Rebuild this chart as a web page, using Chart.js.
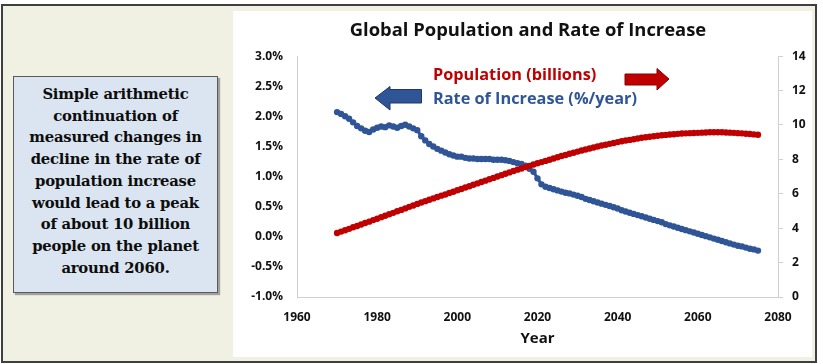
<!DOCTYPE html>
<html>
<head>
<meta charset="utf-8">
<script src="https://cdn.jsdelivr.net/npm/chart.js@4.4.0/dist/chart.umd.min.js"></script>
<style>
  html, body { margin: 0; padding: 0; }
  body { width: 823px; height: 364px; position: relative; overflow: hidden; background: #ffffff; }
  #frame { position: absolute; left: 1px; top: 4px; width: 816px; height: 359px; box-sizing: border-box;
           border: 2px solid #3f3f3f; background: #f0f0e3; }
  #panel { position: absolute; left: 233px; top: 11px; width: 579px; height: 346px; background: #ffffff; }
  #note { position: absolute; left: 13px; top: 76px; width: 205px; height: 217px; box-sizing: border-box;
          background: #dbe5f1; border: 1px solid #5a5a5a; box-shadow: 2px 2px 1px #a0a0a0;
          font: bold 14.8px 'DejaVu Serif', serif; color: #0d0d0d; text-align: center; line-height: 21.7px;
          padding-top: 6px; white-space: nowrap; letter-spacing: -0.2px; }
  #chartBox { position: absolute; left: 233px; top: 11px; width: 590px; height: 346px; }
  .key { position: absolute; font: bold 16.3px 'Open Sans', sans-serif; white-space: nowrap; }
  .arrow { position: absolute; }
</style>
</head>
<body>
<div id="frame"></div>
<div id="panel"></div>
<div id="note">Simple arithmetic<br>continuation of<br>measured changes in<br>decline in the rate of<br>population increase<br>would lead to a peak<br>of about 10 billion<br>people on the planet<br>around 2060.</div>
<div id="chartBox"><canvas id="popChart"></canvas></div>
<div class="key" style="left:433px; top:63px; color:#c00000;">Population (billions)</div>
<div class="key" style="left:433px; top:87px; color:#2f5597;">Rate of Increase (%/year)</div>
<svg class="arrow" style="left:374px; top:85px;" width="50" height="27">
  <polygon points="1,13 16,1.5 16,4.5 47.5,4.5 47.5,18 16,18 16,25 " fill="#2f5597" stroke="#1f3864" stroke-width="1"/>
</svg>
<svg class="arrow" style="left:624px; top:67px;" width="48" height="25">
  <polygon points="1,7 33,7 33,1.5 45,12 33,23 33,18 1,18" fill="#c00000" stroke="#8a0000" stroke-width="1"/>
</svg>
<script>
const years = [
  1970, 1971, 1972, 1973, 1974, 1975, 1976, 1977, 1978, 1979,
  1980, 1981, 1982, 1983, 1984, 1985, 1986, 1987, 1988, 1989,
  1990, 1991, 1992, 1993, 1994, 1995, 1996, 1997, 1998, 1999,
  2000, 2001, 2002, 2003, 2004, 2005, 2006, 2007, 2008, 2009,
  2010, 2011, 2012, 2013, 2014, 2015, 2016, 2017, 2018, 2019,
  2020, 2021, 2022, 2023, 2024, 2025, 2026, 2027, 2028, 2029,
  2030, 2031, 2032, 2033, 2034, 2035, 2036, 2037, 2038, 2039,
  2040, 2041, 2042, 2043, 2044, 2045, 2046, 2047, 2048, 2049,
  2050, 2051, 2052, 2053, 2054, 2055, 2056, 2057, 2058, 2059,
  2060, 2061, 2062, 2063, 2064, 2065, 2066, 2067, 2068, 2069,
  2070, 2071, 2072, 2073, 2074, 2075
];

// world population, billions (right axis)
const population = [
  3.72, 3.80, 3.88, 3.96, 4.05, 4.13, 4.21, 4.30, 4.38, 4.47,
  4.55, 4.64, 4.72, 4.81, 4.89, 4.98, 5.06, 5.15, 5.24, 5.32,
  5.41, 5.49, 5.57, 5.65, 5.73, 5.81, 5.89, 5.96, 6.04, 6.12,
  6.20, 6.28, 6.36, 6.44, 6.52, 6.60, 6.68, 6.76, 6.84, 6.92,
  7.00, 7.08, 7.16, 7.24, 7.32, 7.40, 7.47, 7.55, 7.62, 7.70,
  7.77, 7.84, 7.91, 7.98, 8.05, 8.12, 8.19, 8.25, 8.32, 8.38,
  8.45, 8.51, 8.57, 8.63, 8.69, 8.75, 8.80, 8.85, 8.90, 8.95,
  9.00, 9.05, 9.09, 9.13, 9.17, 9.21, 9.25, 9.28, 9.31, 9.34,
  9.37, 9.40, 9.42, 9.44, 9.46, 9.48, 9.50, 9.51, 9.52, 9.53,
  9.54, 9.55, 9.56, 9.57, 9.57, 9.57, 9.57, 9.56, 9.55, 9.54,
  9.52, 9.51, 9.49, 9.47, 9.45, 9.43
];

// rate of increase, %/year (left axis)
const rate = [
  2.07, 2.04, 2.00, 1.96, 1.90, 1.84, 1.80, 1.76, 1.74, 1.78,
  1.81, 1.83, 1.82, 1.85, 1.83, 1.81, 1.84, 1.86, 1.83, 1.80,
  1.77, 1.67, 1.60, 1.54, 1.50, 1.46, 1.43, 1.40, 1.37, 1.35,
  1.33, 1.33, 1.31, 1.30, 1.30, 1.29, 1.29, 1.29, 1.29, 1.28,
  1.28, 1.28, 1.27, 1.26, 1.24, 1.22, 1.21, 1.18, 1.13, 1.08,
  0.97, 0.87, 0.83, 0.81, 0.79, 0.77, 0.75, 0.73, 0.72, 0.70,
  0.68, 0.66, 0.63, 0.61, 0.59, 0.57, 0.55, 0.53, 0.51, 0.49,
  0.47, 0.44, 0.42, 0.40, 0.38, 0.36, 0.34, 0.32, 0.30, 0.28,
  0.26, 0.24, 0.21, 0.19, 0.17, 0.15, 0.13, 0.11, 0.09, 0.07,
  0.05, 0.03, 0.01, -0.01, -0.03, -0.05, -0.07, -0.09, -0.11, -0.13,
  -0.15, -0.16, -0.18, -0.20, -0.21, -0.23
];

const axisGray = '#d0d0d0';
const tickFont = { family: 'Open Sans', size: 12, weight: 'bold' };

const ctx = document.getElementById('popChart').getContext('2d');
new Chart(ctx, {
  type: 'line',
  data: {
    datasets: [{
      label: 'Population (billions)',
      data: years.map((y, i) => ({ x: y, y: population[i] })),
      yAxisID: 'yPop',
      borderColor: '#c00000',
      backgroundColor: '#c00000',
      borderWidth: 3,
      pointRadius: 3.2,
      pointBorderWidth: 0
    }, {
      label: 'Rate of Increase (%/year)',
      data: years.map((y, i) => ({ x: y, y: rate[i] })),
      yAxisID: 'yRate',
      borderColor: '#2f5597',
      backgroundColor: '#2f5597',
      borderWidth: 3,
      pointRadius: 3.2,
      pointBorderWidth: 0
    }]
  },
  options: {
    responsive: true,
    maintainAspectRatio: false,
    animation: false,
    layout: { padding: 0 },
    plugins: {
      legend: { display: false },
      tooltip: { enabled: false },
      title: {
        display: true,
        text: 'Global Population and Rate of Increase',
        color: '#111111',
        font: { family: 'Open Sans', size: 18.4, weight: 'bold' },
        padding: { top: 9, bottom: 14 }
      }
    },
    scales: {
      x: {
        type: 'linear',
        min: 1960,
        max: 2080,
        afterFit: s => { s.height = 60; },
        grid: { display: false, drawTicks: false },
        border: { color: axisGray },
        ticks: { stepSize: 20, padding: 13, color: '#111111', font: tickFont, callback: v => String(v) },
        title: { display: true, text: 'Year', color: '#111111',
                 font: { family: 'Open Sans', size: 15, weight: 'bold' }, padding: { top: 0, bottom: 9 } }
      },
      yRate: {
        position: 'left',
        min: -1,
        max: 3,
        afterFit: s => { s.width = 64; },
        grid: { display: false, drawTicks: false },
        border: { color: axisGray },
        ticks: { stepSize: 0.5, padding: 14, color: '#111111', font: tickFont,
                 callback: v => v.toFixed(1) + '%' }
      },
      yPop: {
        position: 'right',
        min: 0,
        max: 14,
        afterFit: s => { s.width = 45; },
        grid: { display: true, drawOnChartArea: false, drawTicks: true, tickLength: 5, color: axisGray },
        border: { color: axisGray },
        ticks: { stepSize: 2, padding: 9, color: '#111111', font: tickFont }
      }
    }
  }
});
</script>
</body>
</html>
